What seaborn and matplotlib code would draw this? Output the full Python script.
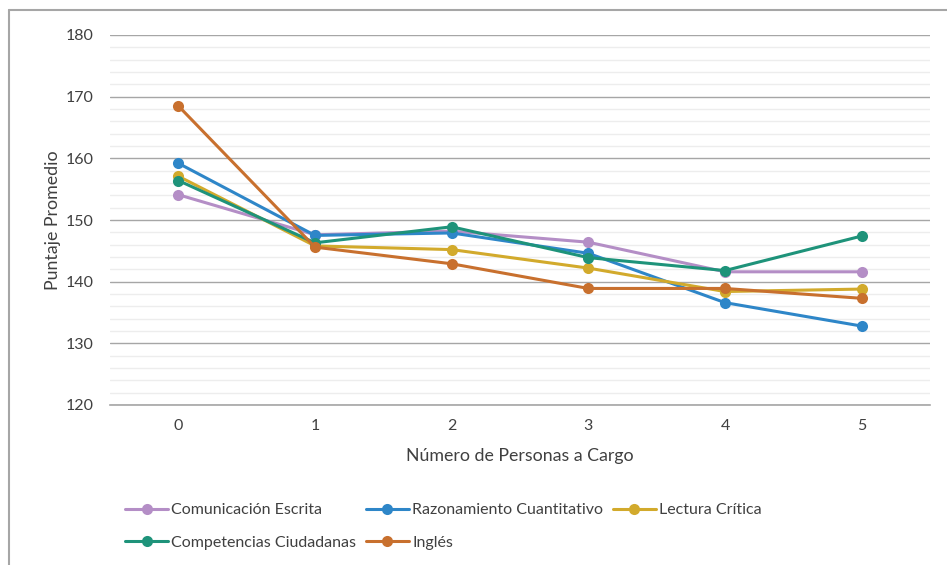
import pandas as pd
import matplotlib.pyplot as plt
import seaborn as sns
from matplotlib.lines import Line2D
from matplotlib.ticker import MultipleLocator

# Puntaje promedio por número de personas a cargo
personas = [0, 1, 2, 3, 4, 5]
comunicacion = [154.1, 147.6, 148.2, 146.4, 141.6, 141.6]
razonamiento = [159.2, 147.5, 147.9, 144.6, 136.6, 132.8]
lectura = [157.1, 145.8, 145.2, 142.2, 138.4, 138.8]
competencias = [156.4, 146.3, 148.9, 143.9, 141.8, 147.4]
ingles = [168.5, 145.6, 142.9, 138.9, 138.9, 137.3]

series = {
    "Comunicación Escrita": comunicacion,
    "Razonamiento Cuantitativo": razonamiento,
    "Lectura Crítica": lectura,
    "Competencias Ciudadanas": competencias,
    "Inglés": ingles,
}
colores = {
    "Comunicación Escrita": "#B48EC6",
    "Razonamiento Cuantitativo": "#2E86C8",
    "Lectura Crítica": "#D2AA2C",
    "Competencias Ciudadanas": "#1E937A",
    "Inglés": "#C8702E",
}

df = pd.DataFrame(
    [(x, nombre, v) for nombre, vals in series.items() for x, v in zip(personas, vals)],
    columns=["personas", "prueba", "puntaje"],
)

sns.set_style("white")
plt.rcParams["font.family"] = ["Lato", "DejaVu Sans"]

W, H = 947, 565
fig = plt.figure(figsize=(W / 100, H / 100), dpi=100)
ax = fig.add_axes([110 / W, 1 - 405 / H, (930 - 110) / W, (405 - 35) / H])

sns.lineplot(
    data=df, x="personas", y="puntaje", hue="prueba", palette=colores,
    marker="o", markersize=8, markeredgewidth=0, linewidth=2.2,
    ax=ax, legend=False, zorder=3,
)

ax.set_xlim(-0.5, 5.5)
ax.set_ylim(120, 180)
ax.yaxis.set_major_locator(MultipleLocator(10))
ax.yaxis.set_minor_locator(MultipleLocator(2))
ax.set_xticks(personas)
ax.grid(axis="y", which="minor", color="#EDEDED", linewidth=1)
ax.grid(axis="y", which="major", color="#A6A6A6", linewidth=1)
ax.grid(axis="x", visible=False)
ax.set_axisbelow(True)
for s in ["top", "right", "left"]:
    ax.spines[s].set_visible(False)
ax.spines["bottom"].set_color("#A6A6A6")
ax.spines["bottom"].set_linewidth(1.2)
ax.tick_params(axis="both", which="both", length=0, labelsize=11.5, colors="#404040")
ax.tick_params(axis="y", pad=12)
ax.tick_params(axis="x", pad=10)

ax.set_xlabel("Número de Personas a Cargo", fontsize=12.8, color="#404040", labelpad=11)
ax.set_ylabel("Puntaje Promedio", fontsize=12.8, color="#404040", labelpad=3)

# leyenda en filas: reordenar para llenado por columnas
orden = ["Comunicación Escrita", "Competencias Ciudadanas",
         "Razonamiento Cuantitativo", "Inglés", "Lectura Crítica"]
handles = [Line2D([], [], color=colores[n], marker="o", markersize=8,
                  markeredgewidth=0, linewidth=2.2) for n in orden]
leg = fig.legend(
    handles, orden, loc="upper left", bbox_to_anchor=(125 / W, 1 - 503 / H),
    ncol=3, frameon=False, fontsize=11.5, handlelength=2.7, handletextpad=0.2,
    columnspacing=0.6, labelspacing=1.15, borderpad=0, borderaxespad=0,
)
for t in leg.get_texts():
    t.set_color("#404040")

# marco del gráfico
fig.add_artist(Line2D([9 / W, 1], [1 - 10 / H, 1 - 10 / H], color="#A6A6A6", linewidth=1.5))
fig.add_artist(Line2D([9 / W, 9 / W], [0, 1 - 10 / H], color="#A6A6A6", linewidth=1.5))

fig.savefig("out.png", dpi=100)
